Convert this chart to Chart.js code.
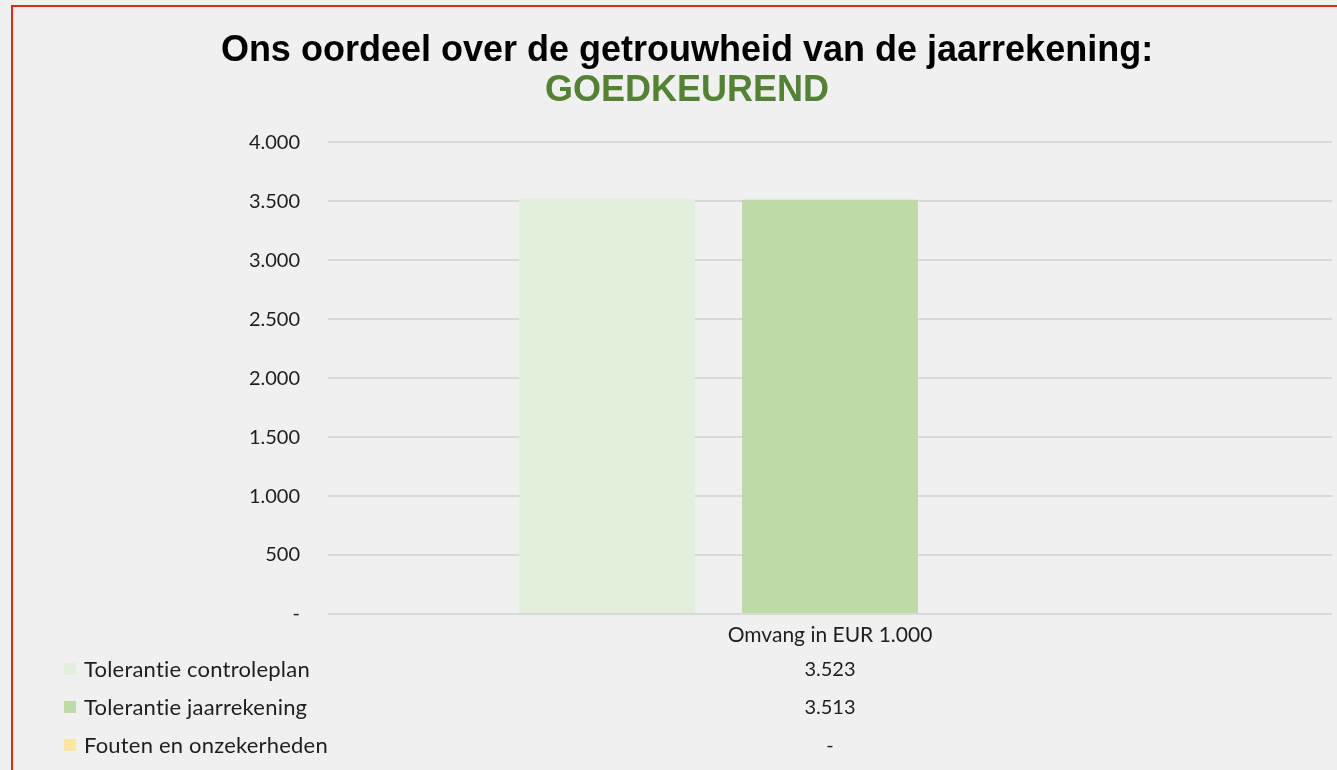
<!DOCTYPE html>
<html>
<head>
<meta charset="utf-8">
<script src="https://cdn.jsdelivr.net/npm/chart.js@4"></script>
<style>
  html, body { margin: 0; padding: 0; background: #f0f0f0; }
  #wrap { position: relative; width: 1337px; height: 770px; overflow: hidden; }
  #frame { position: absolute; left: 11px; top: 5px; right: -10px; bottom: -10px;
           border-left: 2px solid #e3261d; border-top: 2px solid #e3261d; pointer-events: none; }
  canvas { position: absolute; left: 0; top: 0; }
</style>
</head>
<body>
<div id="wrap">
  <canvas id="myChart" width="1337" height="770"></canvas>
  <div id="frame"></div>
</div>
<script>
// gegevens
const categorieen = ['Omvang in EUR 1.000']
const reeksNamen = ['Tolerantie controleplan', 'Tolerantie jaarrekening', 'Fouten en onzekerheden']
const tolerantieControleplan = [3523]
const tolerantieJaarrekening = [3513]
const foutenOnzekerheden = [0]
const yTickLabels = ['-', '500', '1.000', '1.500', '2.000', '2.500', '3.000', '3.500', '4.000']
const titelTekst = 'Ons oordeel over de getrouwheid van de jaarrekening:'
const oordeelTekst = 'GOEDKEUREND'

const kleuren = ['#e2efda', '#bddaa7', '#fbe5a2']
const tekstKleur = '#1e1e1e'
const fontFam = 'Lato, "Open Sans", sans-serif'

function formatGetal(v) {
    if (v === 0) return '-'
    return String(v).replace(/\B(?=(\d{3})+(?!\d))/g, '.')
}

// tabel onder de grafiek (zoals Excel data table)
const dataTabel = {
    id: 'dataTabel',
    afterDraw(chart) {
        const ctx = chart.ctx
        const xs = chart.scales.x
        const rijY = [670, 708, 746]
        ctx.save()
        ctx.textBaseline = 'middle'
        chart.data.datasets.forEach((ds, i) => {
            let y = rijY[i]
            ctx.fillStyle = ds.backgroundColor
            ctx.fillRect(64, y - 7, 12, 12)
            ctx.fillStyle = tekstKleur
            ctx.textAlign = 'left'
            ctx.font = '22px ' + fontFam
            // letterspacing zodat Lato geen "ti" ligatuur maakt
            ctx.letterSpacing = '0.2px'
            ctx.fillText(ds.label, 84, y)
            ctx.letterSpacing = '0px'
            ctx.textAlign = 'center'
            ctx.font = '20px ' + fontFam
            ds.data.forEach((v, j) => {
                ctx.fillText(formatGetal(v), xs.getPixelForValue(j), y)
            })
        })
        ctx.restore()
    }
}

const ctx = document.getElementById('myChart')
const myChart = new Chart(ctx, {
    type: 'bar',
    data: {
        labels: categorieen,
        datasets: [
            { label: reeksNamen[0], data: tolerantieControleplan, backgroundColor: kleuren[0] },
            { label: reeksNamen[1], data: tolerantieJaarrekening, backgroundColor: kleuren[1] },
            { label: reeksNamen[2], data: foutenOnzekerheden, backgroundColor: kleuren[2] }
        ]
    },
    options: {
        responsive: false,
        animation: false,
        devicePixelRatio: 1,
        layout: { padding: { left: 42, right: 5, top: 0, bottom: 116 } },
        datasets: { bar: { categoryPercentage: 0.666, barPercentage: 0.789 } },
        plugins: {
            legend: { display: false },
            tooltip: { enabled: false },
            title: {
                display: true,
                text: titelTekst,
                color: '#000000',
                font: { family: '"Liberation Sans", Arial, sans-serif', size: 36, weight: 'bold', lineHeight: 1.1 },
                padding: { top: 31, bottom: 1 }
            },
            subtitle: {
                display: true,
                text: oordeelTekst,
                color: '#548235',
                font: { family: '"Liberation Sans", Arial, sans-serif', size: 36, weight: 'bold', lineHeight: 1.1 },
                padding: { top: 0, bottom: 31 }
            }
        },
        scales: {
            x: {
                grid: { display: false },
                border: { display: false },
                ticks: { color: tekstKleur, font: { family: fontFam, size: 21 }, padding: 1 },
                afterFit(scale) { scale.height = 40 }
            },
            y: {
                min: 0,
                max: 4000,
                ticks: {
                    stepSize: 500,
                    color: tekstKleur,
                    font: { family: fontFam, size: 20 },
                    padding: 28,
                    callback: (v, i) => yTickLabels[i]
                },
                grid: { color: '#d9d9d9', lineWidth: 2, drawTicks: false },
                border: { display: false },
                afterFit(scale) { scale.width = 286 }
            }
        }
    },
    plugins: [dataTabel]
})
</script>
</body>
</html>
